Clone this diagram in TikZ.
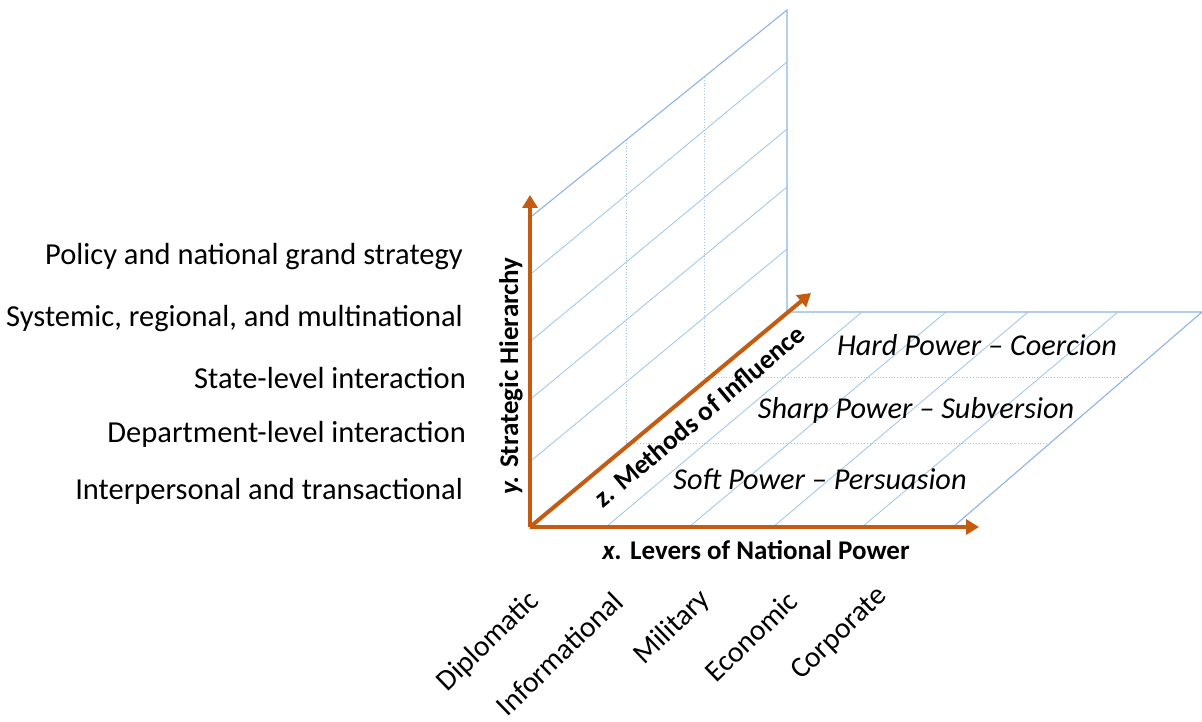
\documentclass[tikz,border=0pt]{standalone}
\usepackage{fontspec}
\setmainfont{Carlito}
\usetikzlibrary{arrows.meta}
\definecolor{axisorange}{HTML}{C55A11}
\definecolor{gridblue}{HTML}{9DC3E6}
\definecolor{edgeblue}{HTML}{8DB4E2}
\begin{document}
\begin{tikzpicture}[x=1pt,y=-1pt,
  axisline/.style={draw=axisorange,line width=4pt,-{Triangle[width=15pt,length=13pt]}},
  gridline/.style={draw=gridblue,line width=0.8pt},
  divline/.style={draw=gridblue,line width=0.8pt,dotted},
  edgeline/.style={draw=edgeblue,line width=1.1pt},
  levellabel/.style={anchor=east,font=\fontsize{30.5}{34}\selectfont,inner sep=0pt},
  axislabel/.style={font=\fontsize{27}{31}\selectfont\bfseries,inner sep=0pt},
  powerlabel/.style={font=\fontsize{30.3}{34}\selectfont\itshape,inner sep=0pt},
  leverlabel/.style={rotate=44,anchor=east,font=\fontsize{29.5}{33}\selectfont,inner sep=0pt}]
\useasboundingbox (0,0) rectangle (1202,722);
% ---- back wall (y-z plane)
\draw[edgeline] (532,216) -- (787,10) -- (787,312);
\foreach \l/\r in {273/62,340/129,398/187,460/249}
  \draw[gridline] (532,\l) -- (787,\r);
\draw[divline] (626,140) -- (626,443);
\draw[divline] (704,77) -- (704,377);
% ---- floor (x-z plane)
\draw[edgeline] (787,312) -- (1202,312) -- (953,527) -- (530,527);
\foreach \f/\b in {606/862,689/946,773/1028,862/1118}
  \draw[gridline] (\f,527) -- (\b,312);
\draw[divline] (626,443) -- (1050,443);
\draw[divline] (704,377) -- (1128,377);
% ---- axes
\coordinate (O) at (530,527);
\coordinate (Ytip) at (530,195);
\coordinate (Xtip) at (979,527);
\coordinate (Ztip) at (811,293);
\draw[axisline] (O) -- (Ytip);
\draw[axisline] (O) -- (Xtip);
\draw[axisline] (O) -- (Ztip);
% ---- axis labels
\node[axislabel,rotate=90] (ylab) at (511,376) {\textit{y.} Strategic Hierarchy};
\node[axislabel] (xlab) at (756,550) {\textit{x.} Levers of National Power};
\node[axislabel,rotate=40] (zlab) at (699,416) {\textit{z.} Methods of Influence};
% ---- strategic levels
\node[levellabel] (l5) at (463,257) {Policy and national grand strategy};
\node[levellabel] (l4) at (463,319) {Systemic, regional, and multinational};
\node[levellabel] (l3) at (466,378) {State-level interaction};
\node[levellabel] (l2) at (466,434) {Department-level interaction};
\node[levellabel] (l1) at (463,491) {Interpersonal and transactional};
% ---- methods of influence
\node[powerlabel] (hard) at (977,345) {Hard Power -- Coercion};
\node[powerlabel] (sharp) at (916,410) {Sharp Power -- Subversion};
\node[powerlabel] (soft) at (820,479) {Soft Power -- Persuasion};
% ---- levers
\node[leverlabel] (dip) at (535,597) {Diplomatic};
\node[leverlabel] (inf) at (618,597) {Informational};
\node[leverlabel] (mil) at (706,595) {Military};
\node[leverlabel] (eco) at (793,596) {Economic};
\node[leverlabel] (cor) at (883,592) {Corporate};
\end{tikzpicture}
\end{document}
